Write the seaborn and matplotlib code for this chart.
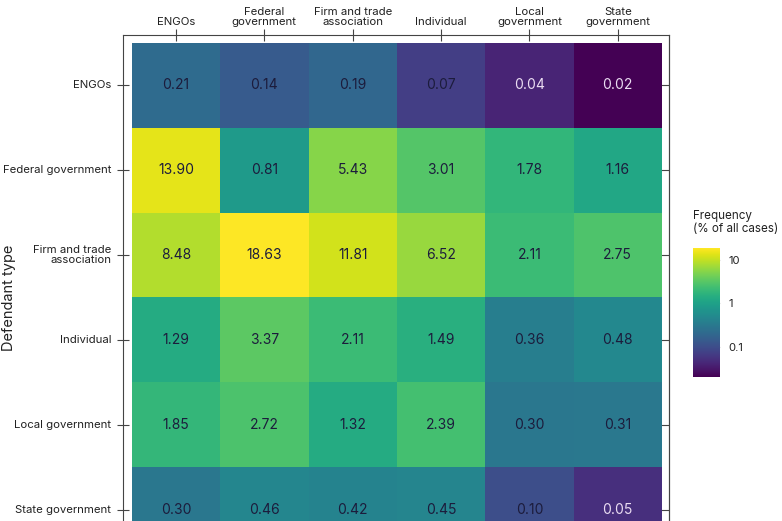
"""
plot.py

Heatmap of case frequency by plaintiff and defendant type.
"""

import matplotlib
matplotlib.use("Agg")

import matplotlib.pyplot as plt
import numpy as np
import pandas as pd
import seaborn as sns
from matplotlib.colors import LogNorm
from matplotlib.ticker import NullLocator

sns.set_style("white")
plt.rcParams["font.family"] = ["Inter", "DejaVu Sans"]

# --------------------------------
# data

col_labels = ["ENGOs", "Federal\ngovernment", "Firm and trade\nassociation",
              "Individual", "Local\ngovernment", "State\ngovernment"]

row_labels = ["ENGOs", "Federal government", "Firm and trade\nassociation",
              "Individual", "Local government", "State government"]

engos = [0.21, 0.14, 0.19, 0.07, 0.04, 0.02]
federal = [13.90, 0.81, 5.43, 3.01, 1.78, 1.16]
firm = [8.48, 18.63, 11.81, 6.52, 2.11, 2.75]
individual = [1.29, 3.37, 2.11, 1.49, 0.36, 0.48]
local = [1.85, 2.72, 1.32, 2.39, 0.30, 0.31]
state = [0.30, 0.46, 0.42, 0.45, 0.10, 0.05]

cbar_ticks = [0.1, 1, 10]
cbar_ticklabels = ["0.1", "1", "10"]

table = pd.DataFrame([engos, federal, firm, individual, local, state],
                     index=row_labels, columns=col_labels)

# --------------------------------
# figure

W, H = 782, 521
fig = plt.figure(figsize=(W / 100, H / 100), dpi=100)

ax = fig.add_axes([123 / W, 1 - 35 / H - 525 / H, 546 / W, 525 / H])
cax = fig.add_axes([693 / W, (H - 377) / H, 27 / W, 129 / H])

sns.heatmap(table, ax=ax, cbar_ax=cax, cmap="viridis",
            norm=LogNorm(vmin=0.02, vmax=18.63),
            annot=True, fmt=".2f",
            annot_kws={"fontsize": 10})

for t in ax.texts:
    if float(t.get_text()) < 0.06:
        t.set_color("#eadcf2")
    else:
        t.set_color("#1c1c3c")

ax.set_xlim(-0.10, 6.08)
ax.set_ylim(6.09, -0.09)

for s in ax.spines.values():
    s.set_visible(True)
    s.set_color("#444444")
    s.set_linewidth(0.8)

ax.xaxis.tick_top()
ax.tick_params(axis="x", top=True, bottom=False, direction="inout",
               length=9, width=0.8, color="#444444", labelsize=8.2, pad=1)
ax.tick_params(axis="y", left=True, direction="inout",
               length=9, width=0.8, color="#444444", labelsize=8.2, pad=4)
plt.setp(ax.get_xticklabels(), rotation=0, ha="center", color="#222222",
         linespacing=1.1)
plt.setp(ax.get_yticklabels(), rotation=0, ha="right", color="#222222",
         linespacing=1.1)

right = ax.secondary_yaxis("right")
right.set_yticks(ax.get_yticks())
right.set_yticklabels([])
right.tick_params(direction="in", length=9, width=0.8, color="#444444")
right.spines["right"].set_color("#444444")
right.spines["right"].set_linewidth(0.8)

ax.set_xlabel("")
ax.set_ylabel("Defendant type", fontsize=10.5, color="#222222")
ax.yaxis.set_label_coords(-0.196, 0.5)

# colorbar
cax.yaxis.set_minor_locator(NullLocator())
cax.set_yticks(cbar_ticks)
cax.set_yticklabels(cbar_ticklabels)
cax.tick_params(which="major", direction="in", left=True, right=True,
                length=5, width=0.8, color="#dddddd", labelsize=8.2,
                labelcolor="#222222", pad=6)

fig.text(693 / W, 1 - 210 / H, "Frequency\n(% of all cases)",
         ha="left", va="top", fontsize=8.4, color="#222222", linespacing=1.15)

fig.savefig("out.png", dpi=100)
